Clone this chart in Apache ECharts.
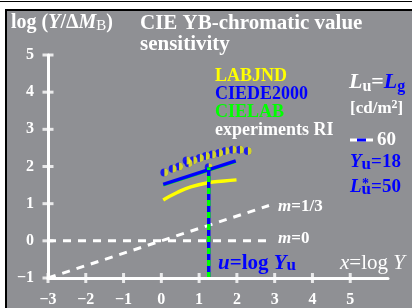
<!DOCTYPE html>
<html>
<head>
<meta charset="utf-8">
<script src="https://cdn.jsdelivr.net/npm/echarts@6/dist/echarts.min.js"></script>
<style>
  html, body { margin: 0; padding: 0; background: #fff; }
  #wrap { position: relative; width: 412px; height: 308px; overflow: hidden; }
  #topline { position: absolute; left: 0; top: 1px; width: 412px; height: 1px; background: #000; }
  #panel { position: absolute; left: 5px; top: 9px; width: 412px; height: 308px; background: #8f9094;
           border-left: 2px solid #000; border-top: 2px solid #000; }
  #chart { position: absolute; left: 0; top: 0; width: 412px; height: 308px; z-index: 2; }
</style>
</head>
<body>
<div id="wrap">
  <div id="topline"></div>
  <div id="panel"></div>
  <div id="chart"></div>
</div>
<script>
// axis ranges and tick values
var xMin = -3, xMax = 6, yMin = -1, yMax = 5;
var xTicks = [-3, -2, -1, 0, 1, 2, 3, 4, 5];
var yTicks = [-1, 0, 1, 2, 3, 4, 5];

// reference lines m=0 and m=1/3
var mZero = [[-3, 0], [2.8, 0]];
var mThird = [[-3, -1], [2.85, 0.95]];

// LABJND (yellow)
var labjndX = [0.05, 0.42, 0.78, 1.22, 1.66, 1.99];
var labjndY = [1.10, 1.30, 1.45, 1.56, 1.61, 1.64];

// CIEDE2000 (blue) and CIELAB (green)
var ciede = [[0.05, 1.52], [1.97, 2.15]];
var cielab = [[0.05, 1.49], [1.97, 2.12]];

// experiments RI
var expX = [0.08, 0.3, 0.47, 0.67, 0.72, 0.85, 1.02, 1.18, 1.35, 1.53, 1.70, 1.89, 2.08, 2.29];
var expY = [1.84, 1.94, 2.00, 2.16, 2.09, 2.17, 2.23, 2.28, 2.32, 2.36, 2.42, 2.45, 2.45, 2.42];

// u = log Yu, Yu = 18
var uLine = [[1.255, -1], [1.255, 1.98]];

var font = 'Liberation Serif';

function zip(a, b) { return a.map(function (v, i) { return [v, b[i]]; }); }
function minus(v) { return String(v).replace('-', '\u2212'); }

var chart = echarts.init(document.getElementById('chart'));

var option = {
  backgroundColor: 'transparent',
  animation: false,
  grid: { left: 48, right: 24, top: 55, bottom: 27 },
  xAxis: {
    type: 'value', min: xMin, max: xMax, interval: 1, z: 10, splitLine: { show: false },
    axisLine: { show: true, onZero: false, lineStyle: { color: '#ffffff', width: 3 } },
    axisTick: { show: false },
    axisLabel: { margin: 14, color: '#fff', fontFamily: font, fontWeight: 'bold', fontSize: 16,
      formatter: function (v) { return v > 5 ? '' : minus(v); } }
  },
  yAxis: {
    type: 'value', min: yMin, max: yMax, interval: 1, z: 10, splitLine: { show: false },
    axisLine: { show: true, onZero: false, lineStyle: { color: '#ffffff', width: 3 } },
    axisTick: { show: false },
    axisLabel: { margin: 14, color: '#fff', fontFamily: font, fontWeight: 'bold', fontSize: 16, formatter: minus }
  },
  graphic: [
    { type: 'text', left: 11, top: 13, style: {
      text: '{n|log (}{i|Y}{n|/\u0394}{i|M}{s|B}{n|)}',
      rich: {
        n: { fill: '#fff', font: 'bold 20px ' + font },
        i: { fill: '#fff', font: 'italic bold 20px ' + font },
        s: { fill: '#fff', font: '15px ' + font, verticalAlign: 'bottom', padding: [7, 0, 0, 0] }
      } } },
    { type: 'text', left: 140, top: 13, style: { text: 'CIE YB-chromatic value', fill: '#fff', font: 'bold 21px ' + font } },
    { type: 'text', left: 140, top: 34, style: { text: 'sensitivity', fill: '#fff', font: 'bold 21px ' + font } },
    { type: 'text', left: 215, top: 67, style: { text: 'LABJND', fill: '#ffff00', font: 'bold 18px ' + font } },
    { type: 'text', left: 215, top: 85, style: { text: 'CIEDE2000', fill: '#0000ff', font: 'bold 18px ' + font } },
    { type: 'text', left: 215, top: 103, style: { text: 'CIELAB', fill: '#00ff00', font: 'bold 18px ' + font } },
    { type: 'text', left: 215, top: 121, style: { text: 'experiments RI', fill: '#fff', font: 'bold 18px ' + font } },
    { type: 'text', left: 349, top: 71, style: {
      text: '{w|L}{ws|u}{w2|=}{b|L}{bs|g}',
      rich: {
        w: { fill: '#fff', font: 'italic bold 22px ' + font },
        w2: { fill: '#fff', font: 'bold 22px ' + font },
        ws: { fill: '#fff', font: 'bold 16px ' + font, verticalAlign: 'bottom', padding: [9, 0, 0, 0] },
        b: { fill: '#0000ff', font: 'italic bold 22px ' + font },
        bs: { fill: '#0000ff', font: 'bold 16px ' + font, verticalAlign: 'bottom', padding: [9, 0, 0, 0] }
      } } },
    { type: 'text', left: 350, top: 99, style: {
      text: '{a|[cd/m}{p|2}{a|]}',
      rich: {
        a: { fill: '#fff', font: 'bold 17px ' + font },
        p: { fill: '#fff', font: 'bold 12px ' + font, verticalAlign: 'top', padding: [0, 0, 7, 0] }
      } } },
    { type: 'line', shape: { x1: 350, y1: 140, x2: 373, y2: 140 }, style: { stroke: '#fff', lineWidth: 3 } },
    { type: 'line', shape: { x1: 357, y1: 140, x2: 366, y2: 140 }, style: { stroke: '#0000ff', lineWidth: 3 } },
    { type: 'text', left: 377, top: 131, style: { text: '60', fill: '#fff', font: 'bold 19px ' + font } },
    { type: 'text', left: 350, top: 153, style: {
      text: '{i|Y}{s|u}{n|=18}',
      rich: {
        i: { fill: '#0000ff', font: 'italic bold 19px ' + font },
        s: { fill: '#0000ff', font: 'bold 17px ' + font, verticalAlign: 'bottom', padding: [4, 0, 0, 0] },
        n: { fill: '#0000ff', font: 'bold 19px ' + font }
      } } },
    { type: 'text', left: 350, top: 178, style: {
      text: '{i|L}{s|u}{n|=50}',
      rich: {
        i: { fill: '#0000ff', font: 'italic bold 19px ' + font },
        s: { fill: '#0000ff', font: 'bold 17px ' + font, verticalAlign: 'bottom', padding: [4, 0, 0, 0] },
        n: { fill: '#0000ff', font: 'bold 19px ' + font }
      } } },
    { type: 'text', left: 362, top: 177, style: { text: '*', fill: '#0000ff', font: 'bold 14px ' + font } },
    { type: 'text', left: 278, top: 198, style: {
      text: '{i|m}{n|=1/3}',
      rich: { i: { fill: '#fff', font: 'italic bold 17px ' + font }, n: { fill: '#fff', font: 'bold 17px ' + font } } } },
    { type: 'text', left: 278, top: 230, style: {
      text: '{i|m}{n|=0}',
      rich: { i: { fill: '#fff', font: 'italic bold 17px ' + font }, n: { fill: '#fff', font: 'bold 17px ' + font } } } },
    { type: 'text', left: 218, top: 253, style: {
      text: '{i|u}{n|=log}{i| Y}{s|u}',
      rich: {
        i: { fill: '#0000ff', font: 'italic bold 21px ' + font },
        n: { fill: '#0000ff', font: 'bold 21px ' + font },
        s: { fill: '#0000ff', font: 'bold 17px ' + font, verticalAlign: 'bottom', padding: [5, 0, 0, 0] }
      } } },
    { type: 'text', left: 340, top: 253, style: {
      text: '{i|x}{n|=log}{i| Y}',
      rich: {
        i: { fill: '#fff', font: 'italic 21px ' + font },
        n: { fill: '#fff', font: '21px ' + font }
      } } }
  ],
  series: [
    // crossing ticks on both axes
    { type: 'scatter', z: 10, data: xTicks.map(function (v) { return [v, yMin]; }), symbol: 'rect', symbolSize: [3, 10],
      clip: false, silent: true, itemStyle: { color: '#fff' } },
    { type: 'scatter', z: 10, data: yTicks.map(function (v) { return [xMin, v]; }), symbol: 'rect', symbolSize: [11, 3],
      clip: false, silent: true, itemStyle: { color: '#fff' } },
    // data
    { type: 'line', data: mZero, symbol: 'none', lineStyle: { color: '#fff', width: 3, type: [8, 7] } },
    { type: 'line', data: mThird, symbol: 'none', lineStyle: { color: '#fff', width: 3, type: [8, 7] } },
    { type: 'line', data: zip(labjndX, labjndY), smooth: true, symbol: 'none', lineStyle: { color: '#ffff00', width: 3.5 } },
    { type: 'line', data: cielab, symbol: 'none', lineStyle: { color: '#00ff00', width: 2 } },
    { type: 'line', data: ciede, symbol: 'none', lineStyle: { color: '#0000ff', width: 3.5 } },
    { type: 'line', data: uLine, symbol: 'none', clip: false, lineStyle: { color: '#0000ff', width: 3.5 } },
    { type: 'line', data: uLine, symbol: 'none', clip: false, lineStyle: { color: '#00ff00', width: 3.5, type: [6, 6] } },
    { type: 'scatter', data: zip(expX, expY).concat([uLine[1]]), symbol: 'circle', symbolSize: 8,
      itemStyle: { color: '#0000ff' } },
    { type: 'scatter', data: zip(expX, expY).concat([uLine[1]]), symbol: 'path://M0,0 A10,10 0 0,1 0,20 Z',
      symbolSize: [4, 8], symbolOffset: [2, 0], itemStyle: { color: '#ffff00' } }
  ]
};

chart.setOption(option);
</script>
</body>
</html>
